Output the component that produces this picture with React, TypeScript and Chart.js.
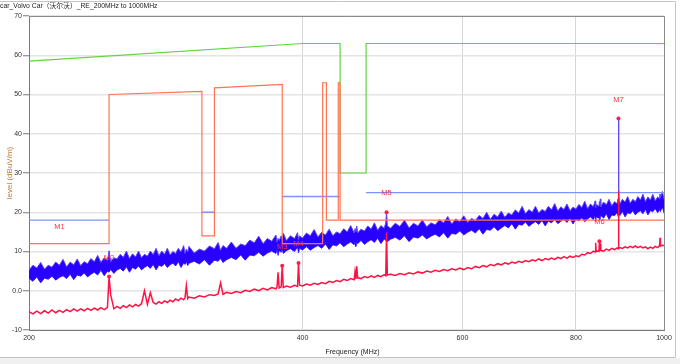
import React, { useEffect, useRef } from "react";
import { Chart, registerables } from "chart.js";

Chart.register(...registerables);

const TITLE = "car_Volvo Car（沃尔沃）_RE_200MHz to 1000MHz";
const X_TITLE = "Frequency (MHz)";
const Y_TITLE = "level (dBuV/m)";
const X_TICKS = [200, 400, 600, 800, 1000];

const FREQ = [
  200, 202, 204, 206, 208, 210, 212, 214, 216, 218,
  220, 222, 224, 226, 228, 230, 232, 234, 236, 238,
  240, 242, 244, 245, 246, 248, 250, 252, 254, 256,
  258, 260, 262, 264, 266, 268, 270, 272, 274, 276,
  278, 280, 282, 284, 286, 288, 290, 292, 294, 296,
  297, 298, 299, 300,
  304, 308, 312, 316, 320, 323, 325, 327, 330, 334,
  338, 342, 346, 350, 354, 358, 362, 366, 370, 374,
  375, 376, 377, 379, 380, 381, 384, 388, 392, 395,
  396, 397, 400, 404, 408, 412, 416, 420, 424, 428,
  432, 436, 440, 444, 448, 452, 456, 457, 458, 459,
  460, 464, 468, 472, 476, 480, 484, 488, 492, 494,
  495, 496, 500,
  506, 512, 518, 524, 530, 536, 542, 548, 554, 560,
  566, 572, 578, 584, 590, 596, 602, 608, 614, 620,
  626, 632, 638, 644, 650, 656, 662, 668, 674, 680,
  686, 692, 698, 704, 710, 716, 722, 728, 734, 740,
  746, 752, 758, 764, 770, 776, 782, 788, 794, 800,
  806, 812, 818, 824, 830, 836, 840, 841, 842, 848,
  849, 850, 851, 852, 858, 864, 870, 876, 882, 888,
  890, 891, 892, 894, 900, 906, 912, 918, 924, 930,
  936, 942, 948, 954, 960, 966, 972, 978, 984, 989,
  990, 991, 996, 1000,
];

// Peak detector trace (blue band): upper edge
const PEAK_MAX = [
  5.3, 6.5, 5.8, 7.2, 5.5, 6.5, 6.0, 7.3, 6.5, 8.0,
  6.1, 7.3, 6.6, 8.1, 6.4, 7.4, 6.9, 8.2, 7.4, 9.0,
  7.2, 8.4, 7.7, 10.2, 7.4, 8.4, 8.1, 9.3, 8.5, 10.1,
  8.2, 9.4, 8.6, 10.1, 8.4, 9.3, 8.8, 10.1, 9.2, 10.8,
  8.9, 10.1, 9.3, 10.8, 9.1, 10.0, 9.5, 10.8, 9.9, 11.5,
  9.5, 10.6, 9.9, 11.3,
  9.6, 10.6, 10.1, 11.4, 10.7, 12.3, 10.3, 11.5, 10.8, 12.4,
  10.8, 11.9, 11.5, 12.9, 12.2, 13.9, 12.0, 13.3, 12.6, 14.2,
  12.4, 13.3, 12.8, 14.0, 13.2, 14.7, 12.8, 14.0, 13.3, 14.8,
  13.0, 14.0, 13.4, 14.7, 14.0, 15.6, 13.7, 14.9, 14.2, 15.7,
  14.0, 15.0, 14.5, 15.8, 15.0, 16.6, 14.7, 15.8, 15.1, 16.5,
  14.7, 15.7, 15.2, 16.5, 15.7, 17.3, 15.4, 16.6, 15.9, 17.3,
  20.0, 16.5, 15.9,
  17.2, 16.4, 18.0, 16.0, 17.2, 16.5, 18.0, 16.3, 17.3, 16.8,
  18.1, 17.3, 18.9, 17.0, 18.3, 17.6, 19.1, 17.4, 18.4, 17.9,
  19.2, 18.4, 20.0, 18.2, 19.5, 18.8, 20.3, 18.7, 19.8, 19.3,
  20.6, 19.8, 21.5, 19.6, 20.7, 20.0, 21.5, 19.8, 20.7, 20.2,
  21.5, 20.6, 22.2, 20.3, 21.4, 20.7, 22.1, 20.4, 21.3, 20.8,
  22.0, 21.2, 22.8, 20.9, 22.1, 21.4, 22.9, 21.1, 22.0, 21.5,
  22.7, 21.8, 23.4, 21.4, 22.6, 21.9, 23.3, 21.6, 22.7, 22.2,
  23.5, 43.9, 24.1, 22.1, 23.3, 22.6, 24.0, 22.3, 23.3, 22.7,
  24.0, 23.1, 24.6, 22.7, 23.9, 23.1, 24.6, 22.9, 23.9, 23.4,
  24.6, 23.7, 25.3, 23.3,
];

// Peak detector trace (blue band): lower edge
const PEAK_MIN = [
  3.1, 2.4, 3.5, 2.0, 3.2, 2.9, 3.7, 2.7, 3.4, 3.8,
  3.1, 4.2, 2.8, 4.0, 3.7, 4.5, 3.5, 4.2, 4.7, 4.0,
  5.2, 3.8, 5.0, 4.7, 5.4, 4.4, 5.3, 5.7, 5.0, 6.1,
  4.7, 5.9, 5.5, 6.3, 5.3, 5.9, 6.4, 5.7, 6.7, 5.3,
  6.5, 6.2, 6.9, 5.9, 6.6, 7.0, 6.3, 7.4, 5.9, 7.1,
  6.7, 7.4, 6.4, 7.0,
  7.5, 6.8, 7.9, 6.5, 7.8, 7.5, 8.2, 7.2, 7.9, 8.5,
  7.9, 9.1, 7.8, 9.1, 8.9, 9.8, 8.8, 9.6, 10.1, 9.5,
  10.5, 9.0, 10.2, 9.8, 10.6, 9.5, 10.2, 10.7, 10.0, 11.1,
  9.6, 10.8, 10.4, 11.2, 10.3, 11.0, 11.5, 10.8, 11.9, 10.5,
  11.7, 11.4, 12.2, 11.2, 11.9, 12.4, 11.7, 12.7, 11.3, 12.4,
  12.0, 12.8, 11.8, 12.5, 13.0, 12.3, 13.4, 12.0, 13.2, 12.8,
  13.6, 12.5, 13.1,
  13.6, 12.9, 14.0, 12.5, 13.7, 13.4, 14.2, 13.2, 13.9, 14.4,
  13.7, 14.8, 13.4, 14.6, 14.4, 15.2, 14.2, 14.9, 15.4, 14.7,
  15.8, 14.4, 15.6, 15.4, 16.3, 15.3, 16.0, 16.6, 16.0, 17.1,
  15.7, 16.9, 16.7, 17.5, 16.4, 17.1, 17.6, 16.9, 17.9, 16.5,
  17.7, 17.3, 18.1, 17.1, 17.7, 18.2, 17.4, 18.5, 17.0, 18.2,
  17.8, 18.6, 17.6, 18.3, 18.8, 18.1, 19.2, 17.7, 18.8, 18.5,
  19.2, 18.1, 18.8, 19.2, 18.5, 19.6, 18.1, 19.3, 19.1, 19.9,
  18.9, 19.5, 19.9, 19.1, 20.2, 18.8, 19.9, 19.6, 20.4, 19.3,
  20.0, 20.4, 19.6, 20.7, 19.3, 20.4, 20.1, 20.9, 19.9, 20.6,
  21.0, 20.2, 21.3, 19.8,
];

// Average detector trace (red)
const AVG = [
  -5.3, -5.9, -5.2, -5.8, -5.1, -5.7, -4.9, -5.6, -5.0, -5.5,
  -4.8, -5.3, -4.6, -5.2, -4.6, -5.1, -4.5, -5.0, -4.4, -4.9,
  -4.3, -4.8, -4.2, 3.6, -1.0, -4.6, -4.0, -4.5, -3.8, -4.3,
  -3.6, -4.1, -3.5, -3.9, -3.3, 0.0, -3.5, -0.5, -3.0, -3.4,
  -2.8, -3.2, -2.6, -3.0, -2.4, -2.8, -2.1, -2.5, -1.9, -2.3,
  -1.8, 1.3, -2.0, -1.6,
  -1.9, -1.3, -1.6, -1.0, -1.2, -0.8, 2.0, -0.9, -0.4, -0.7,
  -0.2, -0.5, 0.1, -0.2, 0.4, 0.0, 0.6, 0.2, 0.8, 0.5,
  0.9, 4.7, 0.7, 1.0, 6.4, 0.8, 1.2, 0.9, 1.4, 1.1,
  7.1, 1.4, 1.2, 1.7, 1.4, 1.9, 1.6, 2.1, 1.8, 2.4,
  2.1, 2.6, 2.3, 2.9, 2.6, 3.1, 2.8, 4.9, 3.0, 6.2,
  3.3, 3.1, 3.6, 3.3, 3.8, 3.4, 3.9, 3.6, 4.1, 3.8,
  14.8, 4.0, 4.2,
  3.9, 4.4, 4.1, 4.6, 4.3, 4.8, 4.5, 5.0, 4.7, 5.2,
  4.9, 5.4, 5.1, 5.6, 5.3, 5.8, 5.4, 5.9, 5.6, 6.2,
  5.9, 6.4, 6.1, 6.7, 6.4, 6.9, 6.6, 7.1, 6.8, 7.3,
  7.0, 7.5, 7.2, 7.7, 7.4, 7.9, 7.6, 8.1, 7.7, 8.2,
  7.9, 8.3, 8.0, 8.5, 8.2, 8.7, 8.3, 8.8, 8.5, 8.9,
  8.7, 9.3, 9.1, 9.7, 9.5, 10.1, 9.9, 12.2, 10.1, 10.0,
  12.6, 10.1, 12.0, 10.3, 10.1, 10.6, 10.3, 10.8, 10.5, 10.9,
  10.7, 25.5, 10.8, 11.0, 10.8, 11.2, 10.9, 11.3, 11.0, 11.4,
  11.0, 11.3, 10.9, 11.2, 10.7, 11.1, 10.8, 11.3, 11.0, 11.5,
  13.5, 11.4, 11.6, 11.5,
];

// Limit lines
const PK_LIMIT_F = [200, 400, 440, 440, 470, 470, 1000];
const PK_LIMIT_V = [58.5, 63, 63, 30, 30, 63, 63];

const AV_LIMIT_F = [200, 245, 245, 310, 310, 320, 320, 380, 380, 421, 421, 425, 425, 438, 438, 440, 440, 1000];
const AV_LIMIT_V = [12, 12, 50, 50.8, 14, 14, 51.7, 52.6, 12, 12, 53, 53, 18, 18, 53, 53, 18, 18];

const QP_LIMIT_F = [200, 245, 245, 310, 320, 320, 380, 440, 440, 470, 1000];
const QP_LIMIT_V = [18, 18, null, 20, 20, null, 24, 24, null, 25, 25];

// Markers
const MARKER_NAMES = ["M1", "M2", "M3", "M4", "M5", "M6", "M7"];
const MARKER_F = [216, 245, 380, 396, 495, 849, 891];
const MARKER_V = [11.3, 3.6, 6.4, 7.1, 20.0, 12.6, 43.9];

const FONT = '"Liberation Sans", "Noto Sans CJK SC", sans-serif';

const pts = (xs: number[], ys: (number | null)[]) => xs.map((x, i) => ({ x, y: ys[i] }));

const decorPlugin = {
  id: "decor",
  beforeDraw(chart: any) {
    const { ctx, width, height } = chart;
    ctx.save();
    ctx.fillStyle = "#ffffff";
    ctx.fillRect(0, 0, width, height);
    ctx.fillStyle = "#f0f0f0";
    ctx.fillRect(0, 358, width, height - 358);
    ctx.strokeStyle = "#c4c4c4";
    ctx.lineWidth = 1;
    ctx.beginPath();
    ctx.moveTo(0, 1.5);
    ctx.lineTo(675.5, 1.5);
    ctx.lineTo(675.5, 357.5);
    ctx.lineTo(0, 357.5);
    ctx.stroke();
    ctx.restore();
  },
  afterDraw(chart: any) {
    const { ctx, chartArea } = chart;
    const { left, right, top, bottom } = chartArea;
    ctx.save();
    ctx.strokeStyle = "#8a8a8a";
    ctx.lineWidth = 1;
    ctx.beginPath();
    ctx.moveTo(left, top + 0.5);
    ctx.lineTo(right + 0.5, top + 0.5);
    ctx.lineTo(right + 0.5, bottom);
    ctx.stroke();

    ctx.fillStyle = "#222";
    ctx.font = `6.8px ${FONT}`;
    ctx.textAlign = "left";
    ctx.textBaseline = "middle";
    ctx.fillText(TITLE, 0, 6.5);

    ctx.font = `7px ${FONT}`;
    ctx.textAlign = "center";
    ctx.fillText(X_TITLE, (left + right) / 2 + 6, 352);

    ctx.save();
    ctx.translate(9.5, (top + bottom) / 2);
    ctx.rotate(-Math.PI / 2);
    ctx.fillStyle = "#c07a30";
    ctx.font = `8px ${FONT}`;
    ctx.textAlign = "center";
    ctx.fillText(Y_TITLE, 0, 0);
    ctx.restore();

    const meta = chart.getDatasetMeta(0);
    ctx.fillStyle = "#ff3048";
    ctx.font = `7.5px ${FONT}`;
    meta.data.forEach((el: any, i: number) => {
      ctx.fillText(MARKER_NAMES[i], el.x, el.y - 19);
    });
    ctx.restore();
  },
};

export default function App() {
  const ref = useRef<HTMLCanvasElement | null>(null);
  useEffect(() => {
    document.body.style.margin = "0";
    if (!ref.current) return;
    const chart = new Chart(ref.current, {
      type: "line",
      data: {
        datasets: [
          {
            label: "Markers",
            data: pts(MARKER_F, MARKER_V),
            showLine: false,
            pointRadius: [0, 2, 2, 2, 2, 2, 2],
            pointBackgroundColor: "#ff1a4a",
            pointBorderColor: "#ff1a4a",
            pointBorderWidth: 0,
            order: -1,
          } as any,
          {
            label: "Average",
            data: pts(FREQ, AVG),
            borderColor: "#ff1144",
            borderWidth: 1.5,
            pointRadius: 0,
            order: 0,
          },
          {
            label: "AV limit",
            data: pts(AV_LIMIT_F, AV_LIMIT_V),
            borderColor: "#ff7452",
            borderWidth: 1.2,
            pointRadius: 0,
            order: 1,
          },
          {
            label: "QP limit",
            data: pts(QP_LIMIT_F, QP_LIMIT_V),
            borderColor: "#7a94ff",
            borderWidth: 1.4,
            pointRadius: 0,
            spanGaps: false,
            order: 1,
          },
          {
            label: "PK limit",
            data: pts(PK_LIMIT_F, PK_LIMIT_V),
            borderColor: "#62d13e",
            borderWidth: 1.2,
            pointRadius: 0,
            order: 1,
          },
          {
            label: "Peak max",
            data: pts(FREQ, PEAK_MAX),
            borderColor: "#5a44ff",
            borderWidth: 1,
            backgroundColor: "#2800ff",
            fill: "+1",
            pointRadius: 0,
            order: 5,
          },
          {
            label: "Peak min",
            data: pts(FREQ, PEAK_MIN),
            borderColor: "#5a44ff",
            borderWidth: 1,
            pointRadius: 0,
            order: 6,
          },
        ],
      },
      options: {
        animation: false,
        responsive: false,
        maintainAspectRatio: false,
        devicePixelRatio: 1,
        layout: { padding: { top: 16, right: 16, left: 0, bottom: 0 } },
        elements: { line: { tension: 0 } },
        plugins: {
          legend: { display: false },
          tooltip: { enabled: false },
          title: { display: false },
        },
        scales: {
          x: {
            type: "logarithmic",
            min: 200,
            max: 1000,
            afterBuildTicks: (s: any) => {
              s.ticks = X_TICKS.map((v) => ({ value: v }));
            },
            afterFit: (s: any) => {
              s.height = 34;
            },
            ticks: {
              autoSkip: false,
              maxRotation: 0,
              padding: 4,
              color: "#333",
              font: { family: FONT, size: 7 },
              callback: (v: any) => String(v),
            },
            grid: { color: "#d6d6d6", lineWidth: 1, drawTicks: false },
            border: { color: "#7a7a7a", width: 1 },
          },
          y: {
            min: -10,
            max: 70,
            afterFit: (s: any) => {
              s.width = 29;
            },
            ticks: {
              stepSize: 10,
              padding: 1,
              color: "#333",
              font: { family: FONT, size: 7 },
              callback: (v: any) => (v === 0 ? "0.0" : String(v)),
            },
            grid: { color: "#e4e4e4", lineWidth: 1.5, tickLength: 6, tickColor: "#777", tickWidth: 1 },
            border: { color: "#7a7a7a", width: 1 },
          },
        },
      } as any,
      plugins: [decorPlugin],
    });
    return () => chart.destroy();
  }, []);
  return (
    <div style={{ width: 680, height: 364 }}>
      <canvas ref={ref} width={680} height={364} style={{ display: "block", width: 680, height: 364 }} />
    </div>
  );
}
